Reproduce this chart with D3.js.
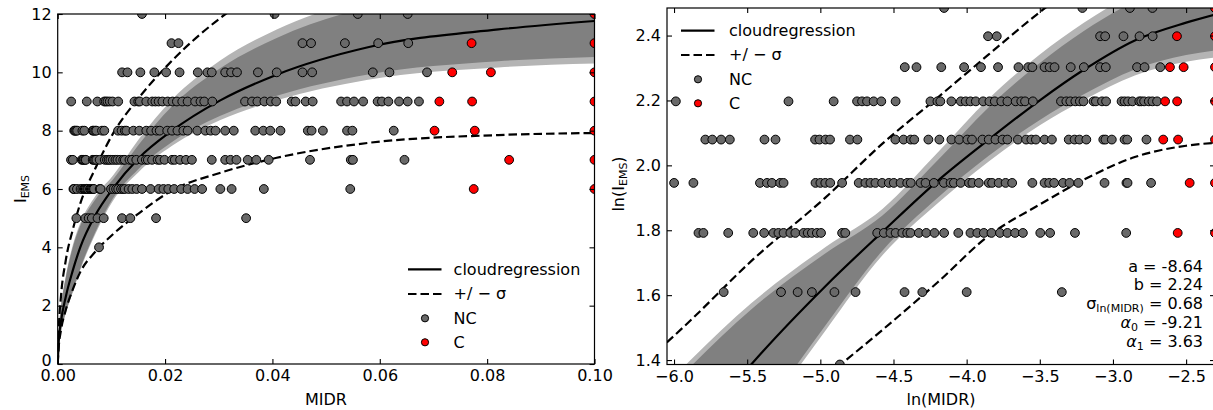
<!DOCTYPE html>
<html>
<head>
<meta charset="utf-8">
<script src="https://cdn.jsdelivr.net/npm/d3@7"></script>
<style>
  body { margin: 0; background: #fff; }
  text { font-family: "DejaVu Sans", sans-serif; }
</style>
</head>
<body>
<svg id="graph"></svg>
<script>
const width = 1213;
const height = 410;

const curveMidr = [0, 0.0002, 0.0006, 0.0015, 0.0028, 0.0042, 0.0070, 0.0103, 0.0150, 0.0213, 0.0302, 0.0408, 0.0578, 0.0821, 0.1];
const curveMid  = [0, 0.8, 1.45, 2.3, 3.2, 4.0, 5.1, 6.02, 7.04, 8.0, 9.03, 9.92, 10.86, 11.47, 11.76];
const curveUp   = [0, 1.2, 2.3, 3.55, 4.6, 5.5, 6.7, 7.9, 9.1, 10.4, 11.85, 13.1, 14.8, 16.4, 17.3];
const curveDown = [0, 0.6, 1.15, 1.85, 2.55, 3.15, 3.85, 4.45, 5.15, 5.95, 6.55, 7.07, 7.58, 7.85, 7.92];
// envelope of the sampled regression lines (dense part and thin outer lines)
const cloudHi  = [0, 1.08, 1.92, 2.95, 3.99, 4.74, 5.64, 6.33, 7.5, 8.84, 10.13, 11.18, 12.24, 12.93, 13.26];
const cloudLo  = [0, 0.59, 1.10, 1.76, 2.49, 3.27, 4.52, 5.68, 6.68, 7.61, 8.5, 9.2, 9.93, 10.38, 10.53];
const fringeHi = [0, 1.1, 1.96, 3.01, 4.07, 4.83, 5.75, 6.46, 7.68, 9.07, 10.4, 11.47, 12.55, 13.25, 13.6];
const fringeLo = [0, 0.58, 1.08, 1.73, 2.45, 3.22, 4.45, 5.6, 6.57, 7.48, 8.36, 9.04, 9.75, 10.17, 10.3];

// observations: MIDR values for each I_EMS level
const nc4 = [0.0077];
const nc5 = [0.00348, 0.00515, 0.00577, 0.00636, 0.00742, 0.00857, 0.01198, 0.01353, 0.01832, 0.0351];
const nc6 = [0.00293, 0.00303, 0.00359, 0.00426, 0.00459, 0.00489, 0.00506, 0.00524, 0.00549, 0.00568, 0.00601, 0.00618, 0.00636, 0.00658, 0.00677, 0.00782, 0.00799, 0.00994, 0.0104, 0.01088, 0.01127, 0.0118, 0.0122, 0.01248, 0.01321, 0.0139, 0.0147, 0.0157, 0.0173, 0.0188, 0.0197, 0.0206, 0.0217, 0.0230, 0.0242, 0.0255, 0.0269, 0.0303, 0.0324, 0.0384, 0.0545];
const nc7 = [0.00248, 0.00283, 0.00446, 0.00468, 0.00484, 0.00512, 0.00524, 0.00652, 0.00674, 0.00697, 0.00721, 0.00782, 0.00876, 0.00917, 0.00949, 0.00982, 0.01028, 0.01076, 0.01113, 0.01166, 0.0122, 0.0125, 0.01337, 0.01383, 0.01464, 0.01568, 0.01641, 0.01679, 0.01758, 0.01861, 0.01905, 0.0199, 0.0213, 0.0218, 0.0228, 0.0239, 0.0250, 0.0287, 0.0312, 0.0322, 0.0333, 0.0354, 0.0370, 0.0393, 0.0470, 0.0546, 0.0550, 0.0646];
const nc8 = [0.00307, 0.00322, 0.00342, 0.00363, 0.0046, 0.00496, 0.0065, 0.0067, 0.00698, 0.0072, 0.00825, 0.00868, 0.01125, 0.0119, 0.0125, 0.0128, 0.0141, 0.0152, 0.0165, 0.0174, 0.0184, 0.019, 0.0204, 0.0213, 0.0223, 0.0234, 0.0242, 0.0260, 0.0275, 0.0285, 0.0294, 0.0312, 0.0328, 0.0368, 0.0383, 0.0396, 0.0415, 0.0466, 0.0473, 0.0494, 0.0539, 0.0549, 0.0626];
const nc9 = [0.00251, 0.00542, 0.00738, 0.00866, 0.00896, 0.00927, 0.0097, 0.01022, 0.01127, 0.0143, 0.0150, 0.0153, 0.0165, 0.0176, 0.0182, 0.0188, 0.0195, 0.0205, 0.0214, 0.0222, 0.0232, 0.0242, 0.0256, 0.0266, 0.0273, 0.0288, 0.0349, 0.0362, 0.0372, 0.0385, 0.0397, 0.0407, 0.0436, 0.0443, 0.0462, 0.0475, 0.0528, 0.0539, 0.0552, 0.0569, 0.0596, 0.0604, 0.0616, 0.0636, 0.0652, 0.0673];
const nc10 = [0.0120, 0.0130, 0.0154, 0.0180, 0.0202, 0.0227, 0.0261, 0.0279, 0.0287, 0.0312, 0.0323, 0.0334, 0.0373, 0.0408, 0.0456, 0.0474, 0.0587, 0.0618, 0.0688];
const nc11 = [0.0212, 0.0225, 0.0456, 0.0472, 0.0535, 0.0597, 0.0653];
const nc12 = [0.0157, 0.0404, 0.0559, 0.0652];
const c6 = [0.0775, 0.1];
const c7 = [0.0841, 0.1];
const c8 = [0.0702, 0.0777, 0.1];
const c9 = [0.0711, 0.0772, 0.1];
const c10 = [0.0735, 0.0807, 0.1];
const c11 = [0.0771, 0.1];
const c12 = [0.1];

const ncRows = [[4, nc4], [5, nc5], [6, nc6], [7, nc7], [8, nc8], [9, nc9], [10, nc10], [11, nc11], [12, nc12]];
const cRows = [[6, c6], [7, c7], [8, c8], [9, c9], [10, c10], [11, c11], [12, c12]];

const leftXTicks = [0, 0.02, 0.04, 0.06, 0.08, 0.10];
const leftYTicks = [0, 2, 4, 6, 8, 10, 12];
const rightXTicks = [-6.0, -5.5, -5.0, -4.5, -4.0, -3.5, -3.0, -2.5];
const rightYTicks = [1.4, 1.6, 1.8, 2.0, 2.2, 2.4];

const legendLabels = ["cloudregression", "+/ \u2212 \u03c3", "NC", "C"];

let svg = d3.select('#graph')
        .attr('width', width)
        .attr('height', height)
        .style('background-color', 'white');

let curve = curveMidr.map((m, i) => ({m: m, mid: curveMid[i], up: curveUp[i], down: curveDown[i],
        hi: cloudHi[i], lo: cloudLo[i], fhi: fringeHi[i], flo: fringeLo[i]}));
let ncPts = ncRows.flatMap(([lev, ms]) => ms.map(m => ({m: m, v: lev})));
let cPts = cRows.flatMap(([lev, ms]) => ms.map(m => ({m: m, v: lev})));

let panels = [
  {id: 'L', x: d3.scaleLinear().domain([0, 0.1]).range([57.7, 594.5]),
   y: d3.scaleLinear().domain([0, 12]).range([364, 14]),
   fx: m => m, fy: v => v, xt: leftXTicks, yt: leftYTicks,
   xf: d3.format('.2f'), yf: d3.format('d')},
  {id: 'R', x: d3.scaleLinear().domain([-6.048, Math.log(0.1)]).range([667, 1215]),
   y: d3.scaleLinear().domain([Math.log(4), Math.log(12)]).range([364.5, 8]),
   fx: Math.log, fy: Math.log, xt: rightXTicks, yt: rightYTicks,
   xf: d3.format('.1f'), yf: d3.format('.1f')}
];

panels.forEach(p => {
  let x0 = p.x.range()[0], x1 = p.x.range()[1];
  let y0 = p.y.range()[1], y1 = p.y.range()[0];

  svg.append('clipPath').attr('id', 'clip' + p.id)
     .append('rect').attr('x', x0).attr('y', y0).attr('width', x1 - x0).attr('height', y1 - y0);

  let g = svg.append('g').attr('clip-path', 'url(#clip' + p.id + ')');
  let data = curve.filter(d => p.id === 'L' || d.m > 0);
  let px = d => p.x(p.fx(d.m));

  let band = (lo, hi) => d3.area().x(px)
          .y0(d => p.y(p.fy(d[lo]))).y1(d => p.y(p.fy(d[hi])))
          .curve(d3.curveMonotoneX);
  let line = key => d3.line().x(px).y(d => p.y(p.fy(d[key]))).curve(d3.curveMonotoneX);

  g.append('path').datum(data).attr('d', band('flo', 'fhi'))
   .attr('fill', '#b4b4b4');
  g.append('path').datum(data).attr('d', band('lo', 'hi'))
   .attr('fill', '#808080');

  g.append('path').datum(data).attr('d', line('mid'))
   .attr('fill', 'none').attr('stroke', 'black').attr('stroke-width', 2.2);
  ['up', 'down'].forEach(k => {
    g.append('path').datum(data).attr('d', line(k))
     .attr('fill', 'none').attr('stroke', 'black').attr('stroke-width', 2.2)
     .attr('stroke-dasharray', '8.5,4');
  });

  [[ncPts, '#696969'], [cPts, 'red']].forEach(([pts, col]) => {
    g.selectAll(null).data(pts).enter().append('circle')
     .attr('cx', px).attr('cy', d => p.y(p.fy(d.v))).attr('r', 4.4)
     .attr('fill', col).attr('stroke', 'black').attr('stroke-width', 1);
  });

  // axes, ticks pointing inwards on all four sides
  let ax = svg.append('g');
  ax.append('g').attr('transform', `translate(0,${y1})`)
    .call(d3.axisBottom(p.x).tickValues(p.xt).tickFormat(p.xf).tickSize(-5).tickPadding(6).tickSizeOuter(0));
  ax.append('g').attr('transform', `translate(0,${y0})`)
    .call(d3.axisTop(p.x).tickValues(p.xt).tickFormat('').tickSize(-5).tickSizeOuter(0));
  ax.append('g').attr('class', 'yaxis').attr('transform', `translate(${x0},0)`)
    .call(d3.axisLeft(p.y).tickValues(p.yt).tickFormat(p.yf).tickSize(-5).tickPadding(6).tickSizeOuter(0));
  ax.append('g').attr('transform', `translate(${x1},0)`)
    .call(d3.axisRight(p.y).tickValues(p.yt).tickFormat('').tickSize(-5).tickSizeOuter(0));
  ax.selectAll('.domain').remove();
  ax.selectAll('g').attr('font-size', 16).attr('font-family', '"DejaVu Sans", sans-serif');
  ax.selectAll('.tick line').attr('stroke', 'black').attr('stroke-width', 1.1);
  ax.selectAll('.tick text').attr('fill', 'black');
  // lift the bottom-most y label a little so it clears the first x label
  ax.selectAll('.yaxis .tick text').filter(d => d === p.yt[0] && p.id === 'L').attr('dy', '0.1em');

  svg.append('rect').attr('x', x0).attr('y', y0).attr('width', x1 - x0).attr('height', y1 - y0)
     .attr('fill', 'none').attr('stroke', 'black').attr('stroke-width', 1.2);
});

////axis labels
svg.append('text').attr('x', 326).attr('y', 405).attr('text-anchor', 'middle')
   .attr('font-size', 16).text('MIDR');
svg.append('text').attr('x', 941).attr('y', 405).attr('text-anchor', 'middle')
   .attr('font-size', 16).text('ln(MIDR)');

let yl = svg.append('text').attr('transform', 'translate(26,189) rotate(-90)')
   .attr('text-anchor', 'middle').attr('font-size', 16);
yl.append('tspan').text('I');
yl.append('tspan').attr('font-size', 11).attr('dy', 3).text('EMS');

let yr = svg.append('text').attr('transform', 'translate(624,184) rotate(-90)')
   .attr('text-anchor', 'middle').attr('font-size', 16);
yr.append('tspan').text('ln(I');
yr.append('tspan').attr('font-size', 11).attr('dy', 3).text('EMS');
yr.append('tspan').attr('dy', -3).text(')');

////legends
function legend(lx, tx, ys) {
  let g = svg.append('g');
  g.append('line').attr('x1', lx).attr('x2', lx + 33.5).attr('y1', ys[0]).attr('y2', ys[0])
   .attr('stroke', 'black').attr('stroke-width', 2.2);
  g.append('line').attr('x1', lx).attr('x2', lx + 33.5).attr('y1', ys[1]).attr('y2', ys[1])
   .attr('stroke', 'black').attr('stroke-width', 2.2).attr('stroke-dasharray', '8.5,4');
  g.append('circle').attr('cx', lx + 17).attr('cy', ys[2]).attr('r', 3.6)
   .attr('fill', '#696969').attr('stroke', 'black');
  g.append('circle').attr('cx', lx + 17).attr('cy', ys[3]).attr('r', 3.6)
   .attr('fill', 'red').attr('stroke', 'black');
  legendLabels.forEach((t, i) => {
    g.append('text').attr('x', tx).attr('y', ys[i] + 5.3).attr('font-size', 16).text(t);
  });
}
legend(408, 453.6, [269.3, 294, 318.3, 342.3]);
legend(681, 729, [30.7, 55, 79.3, 103.3]);

////fit parameters
let ann = svg.append('g').attr('font-size', 16).attr('text-anchor', 'end');
ann.append('text').attr('x', 1203).attr('y', 271.7).text('a = -8.64');
ann.append('text').attr('x', 1203).attr('y', 290.3).text('b = 2.24');
let s = ann.append('text').attr('x', 1203).attr('y', 309);
s.append('tspan').text('\u03c3');
s.append('tspan').attr('font-size', 11).attr('dy', 3).text('ln(MIDR)');
s.append('tspan').attr('dy', -3).text(' = 0.68');
[['0', '-9.21', 328], ['1', '3.63', 347]].forEach(([k, v, yy]) => {
  let t = ann.append('text').attr('x', 1203).attr('y', yy);
  t.append('tspan').attr('font-style', 'italic').text('\u03b1');
  t.append('tspan').attr('font-size', 11).attr('dy', 3).text(k);
  t.append('tspan').attr('dy', -3).text(' = ' + v);
});
</script>
</body>
</html>
